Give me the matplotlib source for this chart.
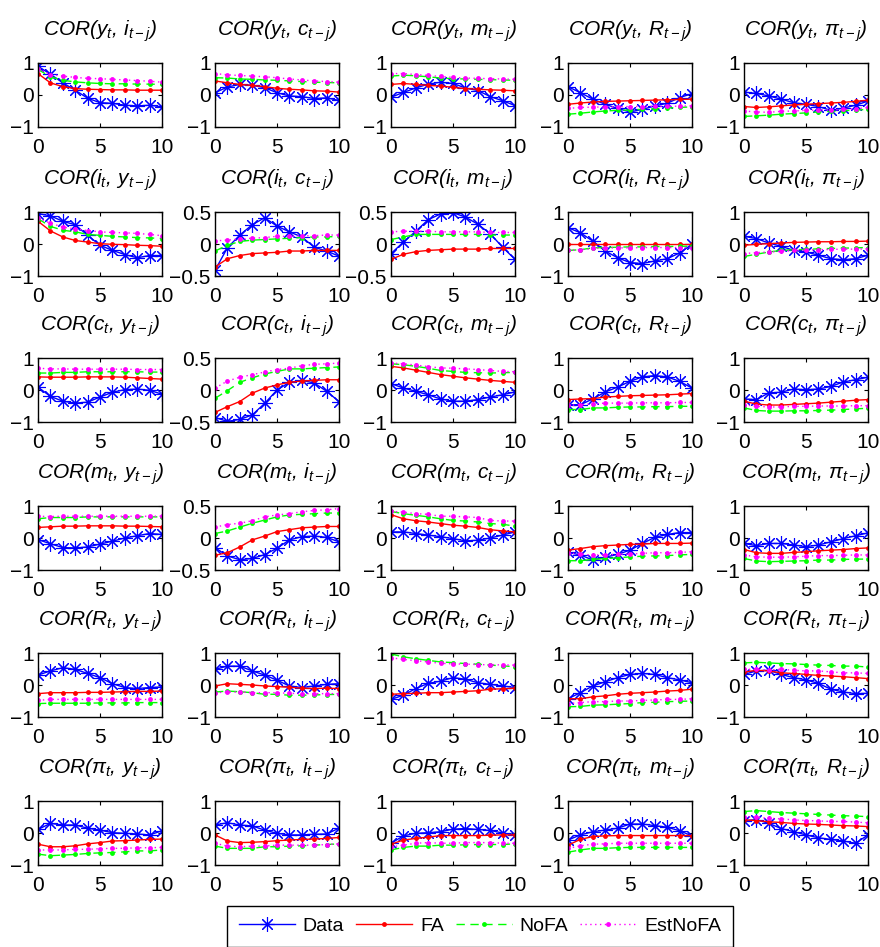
import matplotlib
matplotlib.use('Agg')
import numpy as np
import matplotlib.pyplot as plt

plt.rcParams['font.family'] = 'Liberation Sans'
plt.rcParams['mathtext.fontset'] = 'custom'
plt.rcParams['mathtext.it'] = 'Liberation Sans:italic'
plt.rcParams['mathtext.rm'] = 'Liberation Sans:italic'
plt.rcParams['mathtext.default'] = 'it'

lags = np.arange(11)
var_names = ['y', 'i', 'c', 'm', 'R', r'\pi']
half_range = [('i', 'c'), ('i', 'm'), ('c', 'i'), ('m', 'i')]

# row y: columns i, c, m, R, pi
data_y = [
    [0.9, 0.65, 0.38, 0.15, -0.1, -0.24, -0.26, -0.32, -0.34, -0.32, -0.37],
    [0.07, 0.25, 0.33, 0.3, 0.23, 0.07, -0.03, -0.05, -0.11, -0.09, -0.17],
    [-0.07, 0.08, 0.22, 0.34, 0.4, 0.36, 0.22, 0.14, -0.05, -0.18, -0.33],
    [0.26, 0.07, -0.13, -0.29, -0.42, -0.53, -0.45, -0.34, -0.26, -0.08, 0.04],
    [0.09, 0.05, -0.03, -0.13, -0.24, -0.29, -0.36, -0.48, -0.41, -0.32, -0.19],
]
fa_y = [
    [0.67, 0.38, 0.26, 0.2, 0.18, 0.17, 0.16, 0.16, 0.15, 0.15, 0.15],
    [0.44, 0.38, 0.33, 0.3, 0.26, 0.21, 0.18, 0.16, 0.13, 0.12, 0.09],
    [0.33, 0.36, 0.33, 0.3, 0.28, 0.24, 0.2, 0.18, 0.16, 0.15, 0.13],
    [-0.29, -0.25, -0.22, -0.2, -0.19, -0.18, -0.17, -0.16, -0.15, -0.14, -0.13],
    [-0.36, -0.39, -0.37, -0.34, -0.31, -0.29, -0.27, -0.25, -0.23, -0.2, -0.16],
]
nofa_y = [
    [0.8, 0.57, 0.46, 0.41, 0.38, 0.36, 0.35, 0.35, 0.34, 0.34, 0.33],
    [0.54, 0.53, 0.5, 0.49, 0.47, 0.46, 0.44, 0.42, 0.4, 0.39, 0.38],
    [0.59, 0.62, 0.6, 0.57, 0.53, 0.51, 0.5, 0.49, 0.48, 0.47, 0.46],
    [-0.6, -0.57, -0.53, -0.5, -0.48, -0.47, -0.45, -0.43, -0.41, -0.39, -0.37],
    [-0.67, -0.65, -0.63, -0.6, -0.58, -0.56, -0.53, -0.51, -0.49, -0.47, -0.45],
]
est_y = [
    [0.82, 0.64, 0.59, 0.55, 0.52, 0.51, 0.49, 0.47, 0.45, 0.43, 0.4],
    [0.67, 0.63, 0.61, 0.59, 0.57, 0.54, 0.5, 0.47, 0.44, 0.42, 0.4],
    [0.67, 0.67, 0.64, 0.61, 0.58, 0.55, 0.53, 0.52, 0.51, 0.5, 0.49],
    [-0.42, -0.39, -0.38, -0.37, -0.37, -0.36, -0.36, -0.35, -0.35, -0.35, -0.34],
    [-0.5, -0.53, -0.54, -0.51, -0.5, -0.48, -0.47, -0.47, -0.45, -0.43, -0.39],
]

# row i: columns y, c, m, R, pi
data_i = [
    [0.95, 0.88, 0.71, 0.6, 0.27, -0.04, -0.2, -0.33, -0.43, -0.36, -0.36],
    [-0.41, -0.06, 0.14, 0.3, 0.41, 0.28, 0.19, 0.11, -0.05, -0.11, -0.19],
    [-0.15, 0.03, 0.2, 0.38, 0.47, 0.49, 0.42, 0.31, 0.16, -0.05, -0.24],
    [0.51, 0.35, 0.09, -0.22, -0.43, -0.58, -0.61, -0.53, -0.46, -0.28, -0.01],
    [0.24, 0.17, 0.03, -0.07, -0.2, -0.25, -0.35, -0.46, -0.49, -0.46, -0.35],
]
fa_i = [
    [0.71, 0.41, 0.22, 0.11, 0.06, 0.01, -0.01, -0.02, -0.04, -0.05, -0.07],
    [-0.36, -0.23, -0.18, -0.15, -0.14, -0.13, -0.11, -0.11, -0.1, -0.1, -0.1],
    [-0.24, -0.16, -0.12, -0.1, -0.09, -0.08, -0.08, -0.08, -0.07, -0.07, -0.07],
    [-0.01, -0.01, -0.01, -0.01, -0.01, -0.01, -0.01, -0.01, -0.01, -0.01, -0.01],
    [-0.04, -0.01, 0.01, 0.03, 0.05, 0.06, 0.07, 0.07, 0.08, 0.08, 0.09],
]
nofa_i = [
    [0.79, 0.55, 0.43, 0.38, 0.3, 0.27, 0.24, 0.22, 0.2, 0.19, 0.17],
    [-0.11, -0.02, 0.04, 0.06, 0.07, 0.08, 0.09, 0.1, 0.11, 0.11, 0.12],
    [0.07, 0.11, 0.15, 0.15, 0.15, 0.15, 0.15, 0.15, 0.14, 0.14, 0.14],
    [-0.2, -0.18, -0.12, -0.11, -0.1, -0.09, -0.09, -0.08, -0.08, -0.07, -0.07],
    [-0.39, -0.32, -0.25, -0.2, -0.18, -0.17, -0.15, -0.14, -0.13, -0.12, -0.11],
]
est_i = [
    [0.81, 0.65, 0.53, 0.47, 0.42, 0.38, 0.36, 0.35, 0.33, 0.3, 0.26],
    [0.05, 0.06, 0.08, 0.09, 0.1, 0.12, 0.12, 0.13, 0.13, 0.14, 0.14],
    [0.19, 0.2, 0.2, 0.2, 0.19, 0.19, 0.19, 0.19, 0.18, 0.18, 0.18],
    [-0.2, -0.18, -0.14, -0.12, -0.12, -0.12, -0.11, -0.11, -0.11, -0.11, -0.11],
    [-0.3, -0.27, -0.25, -0.23, -0.2, -0.19, -0.18, -0.17, -0.16, -0.16, -0.15],
]

# row c: columns y, i, m, R, pi
data_c = [
    [0.09, -0.2, -0.35, -0.41, -0.38, -0.22, -0.07, 0.01, 0.03, -0.01, -0.13],
    [-0.43, -0.49, -0.46, -0.39, -0.21, 0.0, 0.12, 0.15, 0.11, -0.02, -0.18],
    [0.2, 0.06, -0.04, -0.15, -0.28, -0.35, -0.35, -0.3, -0.22, -0.15, -0.06],
    [-0.46, -0.46, -0.28, -0.06, 0.09, 0.27, 0.41, 0.45, 0.41, 0.27, 0.06],
    [-0.28, -0.3, -0.09, -0.07, 0.03, 0.01, 0.03, 0.11, 0.25, 0.32, 0.4],
]
fa_c = [
    [0.41, 0.4, 0.4, 0.4, 0.41, 0.41, 0.41, 0.4, 0.38, 0.36, 0.34],
    [-0.35, -0.26, -0.18, -0.05, 0.03, 0.08, 0.12, 0.14, 0.15, 0.16, 0.16],
    [0.74, 0.69, 0.62, 0.55, 0.48, 0.43, 0.38, 0.34, 0.3, 0.27, 0.24],
    [-0.3, -0.28, -0.27, -0.22, -0.2, -0.18, -0.17, -0.16, -0.15, -0.13, -0.11],
    [-0.35, -0.44, -0.47, -0.47, -0.45, -0.43, -0.41, -0.38, -0.35, -0.32, -0.3],
]
nofa_c = [
    [0.53, 0.53, 0.55, 0.55, 0.57, 0.57, 0.57, 0.57, 0.57, 0.56, 0.56],
    [-0.13, -0.01, 0.12, 0.19, 0.25, 0.29, 0.33, 0.33, 0.34, 0.35, 0.36],
    [0.82, 0.79, 0.74, 0.68, 0.61, 0.58, 0.55, 0.54, 0.53, 0.54, 0.55],
    [-0.61, -0.61, -0.56, -0.56, -0.54, -0.53, -0.53, -0.52, -0.52, -0.51, -0.51],
    [-0.56, -0.64, -0.66, -0.66, -0.65, -0.65, -0.64, -0.63, -0.61, -0.59, -0.57],
]
est_c = [
    [0.68, 0.66, 0.66, 0.65, 0.65, 0.65, 0.65, 0.65, 0.64, 0.64, 0.64],
    [0.03, 0.14, 0.2, 0.24, 0.28, 0.32, 0.34, 0.38, 0.4, 0.41, 0.42],
    [0.84, 0.82, 0.78, 0.73, 0.69, 0.68, 0.66, 0.64, 0.61, 0.58, 0.57],
    [-0.48, -0.46, -0.43, -0.41, -0.41, -0.41, -0.4, -0.4, -0.4, -0.39, -0.39],
    [-0.46, -0.51, -0.53, -0.53, -0.51, -0.51, -0.5, -0.5, -0.5, -0.49, -0.49],
]

# row m: columns y, i, c, R, pi
data_m = [
    [-0.05, -0.18, -0.3, -0.31, -0.28, -0.19, -0.1, 0.0, 0.07, 0.14, 0.11],
    [-0.15, -0.28, -0.34, -0.32, -0.26, -0.16, -0.03, 0.02, 0.03, 0.01, -0.06],
    [0.19, 0.19, 0.14, 0.09, 0.04, -0.02, -0.09, -0.07, 0.0, 0.09, 0.19],
    [-0.45, -0.53, -0.69, -0.6, -0.51, -0.38, -0.17, 0.02, 0.11, 0.17, 0.17],
    [-0.17, -0.24, -0.17, -0.17, -0.22, -0.27, -0.22, -0.12, -0.02, 0.07, 0.16],
]
fa_m = [
    [0.33, 0.35, 0.37, 0.37, 0.38, 0.38, 0.38, 0.37, 0.37, 0.36, 0.35],
    [-0.27, -0.23, -0.14, -0.03, 0.03, 0.1, 0.13, 0.16, 0.17, 0.18, 0.18],
    [0.73, 0.6, 0.54, 0.5, 0.45, 0.4, 0.37, 0.33, 0.26, 0.22, 0.19],
    [-0.38, -0.33, -0.27, -0.24, -0.22, -0.2, -0.19, -0.17, -0.17, -0.17, -0.16],
    [-0.36, -0.46, -0.48, -0.48, -0.45, -0.43, -0.4, -0.38, -0.36, -0.33, -0.31],
]
nofa_m = [
    [0.6, 0.64, 0.64, 0.64, 0.66, 0.66, 0.66, 0.66, 0.66, 0.66, 0.66],
    [0.07, 0.11, 0.17, 0.23, 0.28, 0.33, 0.36, 0.37, 0.38, 0.39, 0.39],
    [0.83, 0.76, 0.71, 0.66, 0.6, 0.55, 0.53, 0.5, 0.45, 0.43, 0.37],
    [-0.71, -0.71, -0.67, -0.64, -0.62, -0.59, -0.57, -0.56, -0.55, -0.53, -0.51],
    [-0.64, -0.72, -0.74, -0.73, -0.72, -0.71, -0.69, -0.69, -0.67, -0.66, -0.66],
]
est_m = [
    [0.68, 0.67, 0.68, 0.68, 0.68, 0.68, 0.68, 0.68, 0.68, 0.68, 0.68],
    [0.17, 0.21, 0.23, 0.27, 0.33, 0.36, 0.38, 0.41, 0.43, 0.44, 0.46],
    [0.83, 0.81, 0.76, 0.74, 0.68, 0.68, 0.66, 0.64, 0.55, 0.53, 0.53],
    [-0.46, -0.51, -0.53, -0.53, -0.51, -0.5, -0.48, -0.46, -0.46, -0.45, -0.43],
    [-0.53, -0.59, -0.6, -0.6, -0.59, -0.57, -0.55, -0.55, -0.54, -0.53, -0.53],
]

# row R: columns y, i, c, m, pi
data_R = [
    [0.31, 0.44, 0.54, 0.49, 0.36, 0.23, 0.04, -0.08, -0.11, -0.08, -0.06],
    [0.49, 0.59, 0.59, 0.44, 0.31, 0.15, -0.03, -0.08, -0.03, 0.02, 0.04],
    [-0.45, -0.32, -0.11, 0.05, 0.12, 0.23, 0.18, 0.07, 0.02, -0.03, -0.08],
    [-0.43, -0.24, -0.03, 0.1, 0.23, 0.33, 0.36, 0.33, 0.23, 0.16, 0.07],
    [0.33, 0.44, 0.46, 0.33, 0.23, 0.16, 0.05, -0.13, -0.22, -0.27, -0.26],
]
fa_R = [
    [-0.27, -0.24, -0.24, -0.24, -0.23, -0.23, -0.22, -0.21, -0.2, -0.2, -0.19],
    [-0.03, 0.04, 0.02, 0.0, -0.03, -0.05, -0.07, -0.1, -0.11, -0.1, -0.11],
    [-0.29, -0.27, -0.26, -0.24, -0.24, -0.22, -0.2, -0.18, -0.13, -0.12, -0.1],
    [-0.43, -0.43, -0.37, -0.34, -0.29, -0.26, -0.24, -0.22, -0.19, -0.17, -0.13],
    [0.4, 0.46, 0.44, 0.38, 0.36, 0.33, 0.3, 0.28, 0.26, 0.23, 0.2],
]
nofa_R = [
    [-0.58, -0.57, -0.57, -0.57, -0.57, -0.56, -0.56, -0.56, -0.55, -0.55, -0.55],
    [-0.22, -0.19, -0.21, -0.24, -0.29, -0.29, -0.32, -0.32, -0.31, -0.3, -0.29],
    [0.97, 0.88, 0.82, 0.77, 0.72, 0.7, 0.67, 0.65, 0.62, 0.6, 0.57],
    [-0.68, -0.67, -0.63, -0.62, -0.6, -0.58, -0.55, -0.54, -0.52, -0.51, -0.5],
    [0.69, 0.71, 0.69, 0.67, 0.66, 0.64, 0.62, 0.61, 0.59, 0.59, 0.56],
]
est_R = [
    [-0.48, -0.45, -0.45, -0.45, -0.45, -0.45, -0.45, -0.45, -0.45, -0.45, -0.45],
    [-0.24, -0.22, -0.22, -0.24, -0.24, -0.24, -0.26, -0.27, -0.27, -0.27, -0.27],
    [0.85, 0.8, 0.76, 0.72, 0.68, 0.66, 0.65, 0.64, 0.63, 0.63, 0.62],
    [-0.58, -0.55, -0.52, -0.52, -0.5, -0.5, -0.48, -0.47, -0.45, -0.45, -0.43],
    [0.49, 0.49, 0.47, 0.49, 0.46, 0.44, 0.44, 0.41, 0.38, 0.38, 0.36],
]

# row pi: columns y, i, c, m, R
data_pi = [
    [0.11, 0.3, 0.25, 0.25, 0.15, 0.09, 0.01, -0.01, -0.03, -0.06, 0.07],
    [0.25, 0.32, 0.25, 0.22, 0.09, -0.01, -0.06, -0.06, -0.04, -0.03, 0.15],
    [-0.32, -0.09, -0.01, 0.01, 0.04, 0.12, 0.14, 0.11, 0.08, 0.0, -0.06],
    [-0.22, -0.06, 0.04, 0.09, 0.15, 0.28, 0.28, 0.23, 0.18, 0.07, -0.09],
    [0.38, 0.42, 0.3, 0.14, 0.04, -0.06, -0.15, -0.2, -0.25, -0.32, -0.06],
]
fa_pi = [
    [-0.35, -0.43, -0.43, -0.4, -0.34, -0.3, -0.25, -0.24, -0.22, -0.2, -0.19],
    [-0.06, -0.25, -0.3, -0.29, -0.27, -0.24, -0.22, -0.2, -0.19, -0.17, -0.14],
    [-0.35, -0.22, -0.17, -0.13, -0.08, -0.08, -0.08, -0.08, -0.07, -0.06, -0.06],
    [-0.38, -0.2, -0.11, -0.09, -0.08, -0.08, -0.08, -0.08, -0.08, -0.08, -0.08],
    [0.41, 0.39, 0.35, 0.33, 0.3, 0.28, 0.27, 0.25, 0.23, 0.22, 0.2],
]
nofa_pi = [
    [-0.66, -0.71, -0.69, -0.67, -0.64, -0.62, -0.61, -0.59, -0.56, -0.56, -0.53],
    [-0.41, -0.48, -0.48, -0.48, -0.43, -0.43, -0.41, -0.4, -0.38, -0.36, -0.34],
    [-0.53, -0.45, -0.41, -0.41, -0.38, -0.38, -0.37, -0.36, -0.36, -0.36, -0.34],
    [-0.6, -0.53, -0.48, -0.48, -0.46, -0.45, -0.45, -0.45, -0.45, -0.45, -0.45],
    [0.67, 0.7, 0.67, 0.64, 0.62, 0.6, 0.58, 0.56, 0.54, 0.53, 0.51],
]
est_pi = [
    [-0.53, -0.53, -0.53, -0.51, -0.51, -0.49, -0.48, -0.48, -0.46, -0.46, -0.45],
    [-0.32, -0.41, -0.43, -0.41, -0.41, -0.38, -0.38, -0.38, -0.38, -0.36, -0.34],
    [-0.43, -0.38, -0.32, -0.3, -0.32, -0.32, -0.3, -0.3, -0.3, -0.32, -0.32],
    [-0.48, -0.4, -0.35, -0.34, -0.32, -0.32, -0.32, -0.32, -0.32, -0.32, -0.32],
    [0.51, 0.49, 0.46, 0.44, 0.41, 0.39, 0.38, 0.36, 0.36, 0.34, 0.32],
]

rows = [
    (data_y, fa_y, nofa_y, est_y),
    (data_i, fa_i, nofa_i, est_i),
    (data_c, fa_c, nofa_c, est_c),
    (data_m, fa_m, nofa_m, est_m),
    (data_R, fa_R, nofa_R, est_R),
    (data_pi, fa_pi, nofa_pi, est_pi),
]

W, H = 880, 947
col_left = [38, 215, 391, 568, 744]
row_top = [63, 212, 358, 506, 653, 801]
ax_w, ax_h = 124, 64

fig = plt.figure(figsize=(W / 100, H / 100), dpi=100)

handles = None
for r, row_var in enumerate(var_names):
    others = [v for v in var_names if v != row_var]
    d_all, fa_all, nofa_all, est_all = rows[r]
    for c, col_var in enumerate(others):
        ax = fig.add_axes([col_left[c] / W, 1 - (row_top[r] + ax_h) / H, ax_w / W, ax_h / H])
        h1, = ax.plot(lags, d_all[c], color='blue', lw=1.0, marker=(8, 2, 0), ms=10.5, mew=0.8)
        h2, = ax.plot(lags, fa_all[c], color='red', lw=1.0, marker='o', ms=3.5, mew=0)
        h3, = ax.plot(lags, nofa_all[c], color=(0, 1, 0), lw=1.0, ls=(0, (6, 4)), marker='o', ms=3.5, mew=0)
        h4, = ax.plot(lags, est_all[c], color='magenta', lw=1.0, ls=(0, (1, 2.5)), marker='o', ms=3.5, mew=0)
        handles = [h1, h2, h3, h4]

        ax.set_xlim(0, 10)
        ax.set_xticks([0, 5, 10])
        cv = col_var.replace('\\', '')
        rv = row_var.replace('\\', '')
        if (rv, cv) in half_range:
            ax.set_ylim(-0.5, 0.5)
            ax.set_yticks([-0.5, 0, 0.5])
            ax.set_yticklabels(['\u22120.5', '0', '0.5'])
        else:
            ax.set_ylim(-1, 1)
            ax.set_yticks([-1, 0, 1])
            ax.set_yticklabels(['\u22121', '0', '1'])
        ax.tick_params(direction='in', length=3, width=0.8, top=True, right=True, labelsize=15)
        ax.tick_params(axis='x', pad=8)
        ax.tick_params(axis='y', pad=3)
        for sp in ax.spines.values():
            sp.set_linewidth(1.0)
            sp.set_color('black')
        ax.set_title(rf'$COR({row_var}_{{t}},\,{col_var}_{{t-j}})$', fontsize=15, pad=20)

leg = fig.legend(handles, ['Data', 'FA', 'NoFA', 'EstNoFA'], loc='upper center',
                 bbox_to_anchor=(480 / W, 1 - 906 / H), ncol=4, fontsize=14,
                 frameon=True, fancybox=False, edgecolor='black', framealpha=1,
                 handlelength=2.9, handletextpad=0.4, columnspacing=0.6,
                 borderpad=0.6, borderaxespad=0)
leg.get_frame().set_linewidth(1.0)

fig.savefig('out.png', dpi=100)
